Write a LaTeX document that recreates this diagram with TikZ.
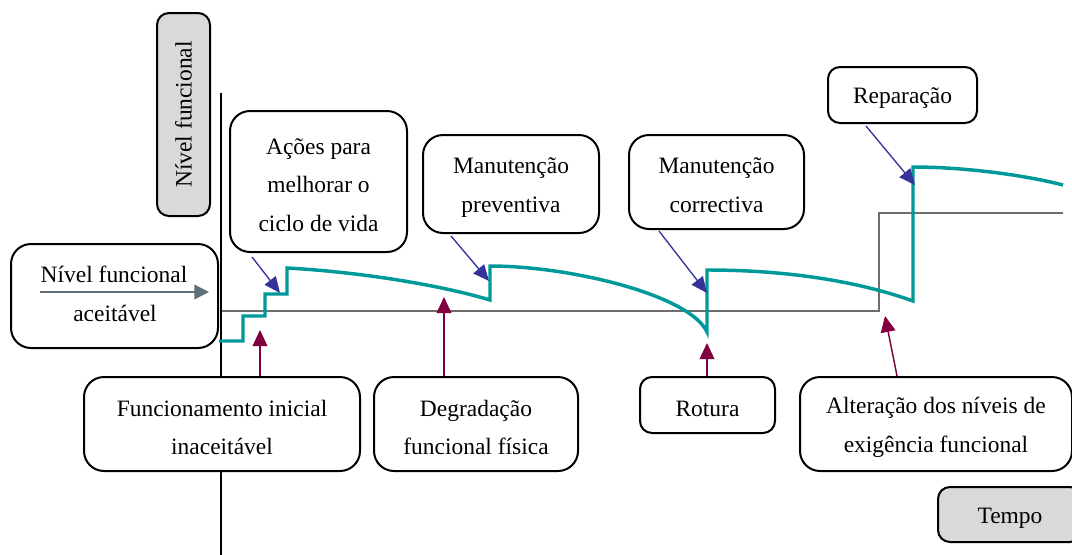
\documentclass[tikz,border=0pt]{standalone}
\usepackage{fontspec}
\setmainfont{Liberation Serif}
\usetikzlibrary{arrows.meta}
\definecolor{curveteal}{RGB}{0,153,153}
\definecolor{levelgray}{RGB}{110,110,110}
\definecolor{actionblue}{RGB}{51,51,153}
\definecolor{causered}{RGB}{128,0,64}
\definecolor{slatearrow}{RGB}{96,112,120}
\definecolor{labelfill}{RGB}{217,217,217}

\begin{document}
\begin{tikzpicture}[x=0.75pt,y=-0.75pt,
  txt/.style={font=\fontsize{17.6}{28.9}\selectfont, align=center, inner sep=0pt},
  box/.style={txt, draw=black, line width=1.5pt, rounded corners=15pt, fill=white},
  smallbox/.style={box, rounded corners=9pt},
  axislabel/.style={smallbox, fill=labelfill},
  boxtext/.style={label={[txt, yshift=-2.6pt]center:{#1}}},
  action/.style={draw=actionblue, line width=1pt, -{Triangle[length=12pt,width=10.5pt]}},
  cause/.style={draw=causered, line width=1.1pt, -{Triangle[length=12pt,width=11pt]}},
  level/.style={draw=levelgray, line width=1.5pt},
  perf/.style={draw=curveteal, line width=2.6pt, line join=miter},
]
\useasboundingbox (0,0) rectangle (1072,554);
\begin{scope}
\clip (0,0) rectangle (1072,554);

% vertical axis
\coordinate (axtop) at (221,93);
\coordinate (axbot) at (221,556);
\draw[line width=1.8pt] (axtop) -- (axbot);

% required functional level (raised later on)
\draw[level] (222,311) -- (879,311) -- (879,213) -- (1063,213);

% functional performance over time
\draw[perf] (219,341) -- (243,341) -- (243,316) -- (265,316) -- (265,294)
  -- (287,294) -- (287,268)
  .. controls (360,272) and (440,285) .. (490,300)
  -- (490,266)
  .. controls (570,266) and (690,295) .. (707,332)
  -- (707,270)
  .. controls (790,270) and (860,282) .. (913,301)
  -- (913,167)
  .. controls (960,167) and (1020,174) .. (1063,185);

% axis labels
\node[axislabel, rotate=90, minimum width=152.25pt, minimum height=39.75pt]
  (ylab) at (183.5,114.5) {Nível funcional};
\node[axislabel, minimum width=108pt, minimum height=41.25pt,
  boxtext={Tempo}] (xlab) at (1010,514.5) {};

% acceptable level box
\node[box, minimum width=155.25pt, minimum height=78pt] (acc) at (114.5,296) {};
\node[txt] (accA) at (114,274) {Nível funcional};
\node[txt] (accB) at (115,313) {aceitável};
\coordinate (accL) at (40,292);
\coordinate (accR) at (209,292);
\draw[draw=slatearrow, line width=1.1pt, -{Triangle[length=11pt,width=11pt]}] (accL) -- (accR);

% interventions (top)
\node[box, minimum width=132.75pt, minimum height=105.75pt,
  boxtext={Ações para\\melhorar o\\ciclo de vida}] (acoes) at (318.5,181.5) {};
\node[box, minimum width=132pt, minimum height=73.5pt,
  boxtext={Manutenção\\preventiva}] (prev) at (511,184) {};
\node[box, minimum width=131.25pt, minimum height=70.5pt,
  boxtext={Manutenção\\correctiva}] (corr) at (716.5,182) {};
\node[smallbox, minimum width=111.75pt, minimum height=42pt,
  boxtext={Reparação}] (rep) at (902.5,95) {};

% causes (bottom)
\node[box, minimum width=207pt, minimum height=70.5pt,
  boxtext={Funcionamento inicial\\inaceitável}] (func) at (222,424) {};
\node[box, minimum width=153pt, minimum height=70.5pt,
  boxtext={Degradação\\funcional física}] (deg) at (476,424) {};
\node[smallbox, minimum width=101.25pt, minimum height=42pt,
  boxtext={Rotura}] (rot) at (707.5,405) {};
\node[box, minimum width=204pt, minimum height=70.5pt,
  boxtext={Alteração dos níveis de\\exigência funcional}] (alt) at (936,424) {};

% arrow targets on the curves
\coordinate (t1) at (280,293);
\coordinate (t2) at (489,281);
\coordinate (t3) at (707,293);
\coordinate (t4) at (915,185);
\coordinate (c1) at (260,330);
\coordinate (c2) at (444,297);
\coordinate (c3) at (707,343);
\coordinate (c4) at (885,316);

\draw[action] ([shift={(23,4)}]acoes.south west) -- (t1);
\draw[action] ([shift={(29,2)}]prev.south west) -- (t2);
\draw[action] ([shift={(31,1)}]corr.south west) -- (t3);
\draw[action] ([shift={(39,2)}]rep.south west) -- (t4);

\draw[cause] ([shift={(38,0)}]func.north) -- (c1);
\draw[cause] ([shift={(-32,0)}]deg.north) -- (c2);
\draw[cause] ([shift={(-0.5,0)}]rot.north) -- (c3);
\draw[cause] ([shift={(-39,0)}]alt.north) -- (c4);
\end{scope}
\end{tikzpicture}
\end{document}
